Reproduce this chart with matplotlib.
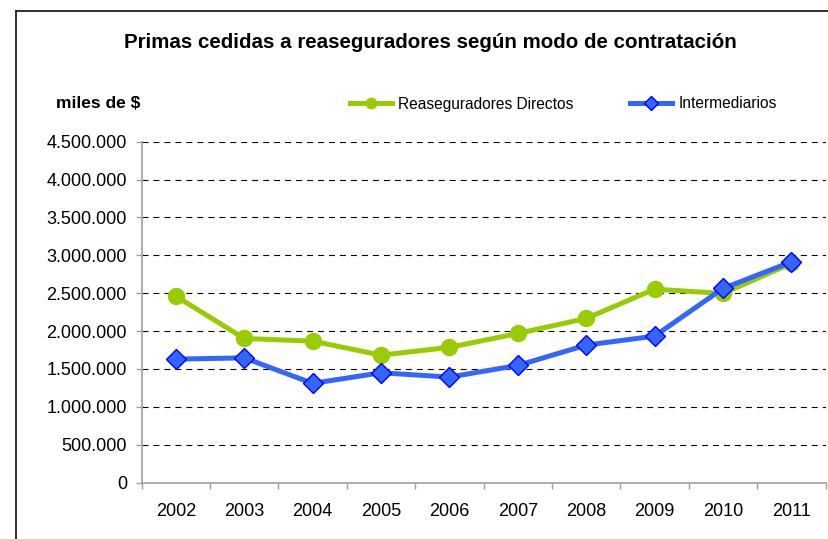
import matplotlib
matplotlib.use("Agg")
import matplotlib.pyplot as plt
from matplotlib.lines import Line2D
import numpy as np

# data (miles de $)
years = ["2002", "2003", "2004", "2005", "2006", "2007", "2008", "2009", "2010", "2011"]
directos = [2460000, 1902000, 1867000, 1682000, 1784000, 1968000, 2166000, 2553000, 2496000, 2892000]
intermediarios = [1629000, 1646000, 1309000, 1449000, 1392000, 1546000, 1814000, 1933000, 2562000, 2913000]
yticks = [0, 500000, 1000000, 1500000, 2000000, 2500000, 3000000, 3500000, 4000000, 4500000]

plt.rcParams['font.family'] = ['Liberation Sans', 'DejaVu Sans']
plt.rcParams['lines.scale_dashes'] = False

green = '#99CC00'
blue = '#3366FF'
axis_gray = '#A0A0A0'


def fmt_miles(v):
    return f"{int(v):,}".replace(",", ".")


fig = plt.figure(figsize=(8.29, 5.39), dpi=100)
ax = fig.add_axes([0.1709, 0.1048, 0.8249, 0.6323])

x = np.arange(len(years))
ax.plot(x, directos, color=green, lw=3.6, marker='o', ms=11.5,
        mfc=green, mec=green, label='Reaseguradores Directos', zorder=3)
ax.plot(x, intermediarios, color=blue, lw=3.6, marker='D', ms=10.5,
        mfc=blue, mec='#0000FF', mew=1.0, label='Intermediarios', zorder=4)

ax.set_xlim(-0.5, len(years) - 0.5)
ax.set_ylim(0, 4500000)

# gridlines dashed black
for v in yticks[1:]:
    ax.axhline(v, color='black', lw=0.8, linestyle=(0, (4.3, 3.6)), zorder=1)

ax.set_yticks(yticks)
ax.set_yticklabels([fmt_miles(v) for v in yticks], fontsize=13)
ax.set_xticks(x)
ax.set_xticklabels(years, fontsize=13)
ax.set_xticks(np.arange(-0.5, len(years)), minor=True)
ax.tick_params(axis='x', which='major', length=0, pad=15)
ax.tick_params(axis='x', which='minor', length=4.3, color=axis_gray, width=1.0)
ax.tick_params(axis='y', length=4.3, color=axis_gray, width=1.0, pad=6.3)

for side in ['top', 'right']:
    ax.spines[side].set_visible(False)
for side in ['left', 'bottom']:
    ax.spines[side].set_color(axis_gray)
    ax.spines[side].set_linewidth(1.2)

fig.text(430 / 829, 1 - 42 / 539, 'Primas cedidas a reaseguradores según modo de contratación',
         fontsize=14.8, fontweight='bold', ha='center', va='center')
fig.text(98 / 829, 1 - 103 / 539, 'miles de $', fontsize=12.5, fontweight='bold',
         ha='center', va='center')

handles = [
    Line2D([], [], color=green, lw=3.6, marker='o', ms=7.5, mfc=green, mec=green),
    Line2D([], [], color=blue, lw=3.6, marker='D', ms=7, mfc=blue, mec='#0000FF', mew=1.0),
]
fig.legend(handles, ['Reaseguradores Directos', 'Intermediarios'], ncol=2,
           loc='center left', bbox_to_anchor=(350 / 829, 1 - 104 / 539),
           frameon=False, fontsize=11.2, handlelength=2.7, handletextpad=0.39,
           columnspacing=3.66, borderpad=0, borderaxespad=0)

# outer chart frame (cropped on right and bottom)
fig.add_artist(Line2D([16 / 829, 16 / 829], [0, 1 - 11 / 539], transform=fig.transFigure,
                      color='#202020', lw=1.3))
fig.add_artist(Line2D([16 / 829, 1], [1 - 11 / 539, 1 - 11 / 539], transform=fig.transFigure,
                      color='#202020', lw=1.3))

fig.savefig('out.png', dpi=100)
